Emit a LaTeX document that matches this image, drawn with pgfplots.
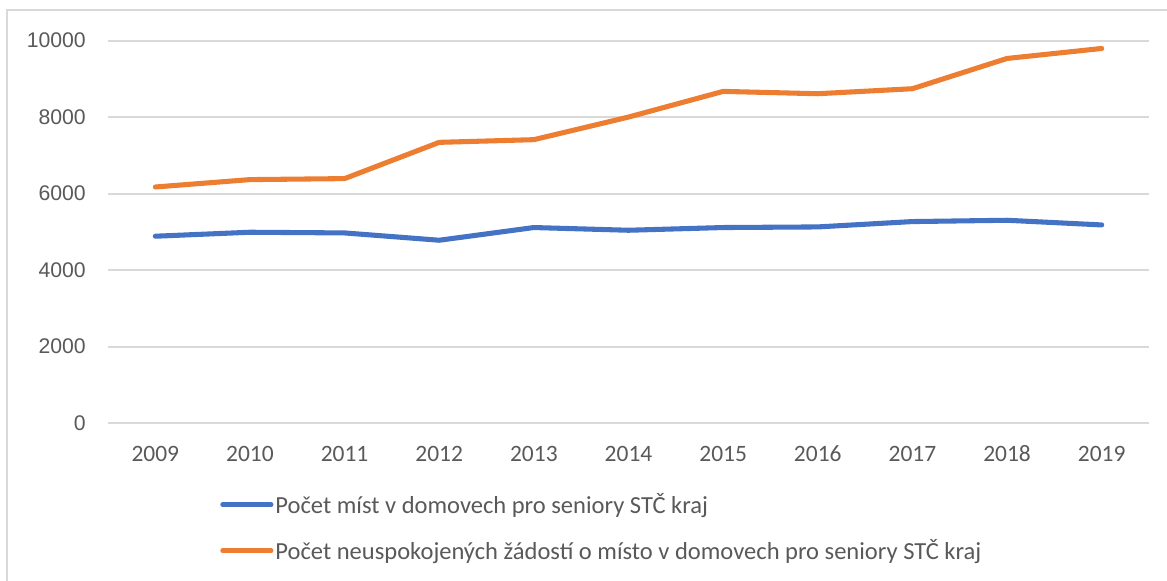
\documentclass[border=0pt]{standalone}
\usepackage{fontspec}
\setmainfont{Carlito}
\newfontfamily\yfont{Liberation Sans}
\usepackage{pgfplots}
\pgfplotsset{compat=1.18}
\definecolor{cblue}{HTML}{4472C4}
\definecolor{corange}{HTML}{ED7D31}
\definecolor{ctext}{HTML}{595959}
\definecolor{cgrid}{HTML}{D9D9D9}
\begin{document}
\begin{tikzpicture}
\path[use as bounding box] (0pt,0pt) rectangle (875.25pt,-435.75pt);
\draw[cgrid, line width=0.8pt] (5.25pt,-435.75pt) -- (5.25pt,-7.5pt) -- (875.25pt,-7.5pt);
\begin{axis}[
  at={(81pt,-317.4pt)}, anchor=south west,
  scale only axis, width=780.75pt, height=286.9pt,
  xmin=-0.5, xmax=10.5, ymin=0, ymax=10000,
  xtick={0,...,10},
  xticklabels={2009,2010,2011,2012,2013,2014,2015,2016,2017,2018,2019},
  ytick={0,2000,4000,6000,8000,10000},
  yticklabels={0,2000,4000,6000,8000,10000},
  scaled y ticks=false,
  axis line style={draw=none},
  major tick length=0pt,
  ymajorgrids, grid style={cgrid, line width=1.3pt},
  /pgf/number format/assume math mode=true,
  /pgf/number format/1000 sep={},
  yticklabel style={font=\yfont\fontsize{15.9pt}{17pt}\selectfont, text=ctext, anchor=east, inner sep=0pt, xshift=-16.5pt},
  xticklabel style={font=\fontsize{17.6pt}{19pt}\selectfont, text=ctext, anchor=base, inner sep=0pt, yshift=-29pt},
  legend style={at={(0.1076,-0.178)}, anchor=north west, draw=none, fill=none,
    font=\fontsize{18.4pt}{20pt}\selectfont, text=ctext,
    row sep=15pt, inner sep=0pt,
    nodes={inner sep=1.5pt, anchor=west}},
  legend cell align=left,
  legend image code/.code={\draw[#1, line width=3.6pt, line cap=round] (1.7pt,0pt) -- (38pt,0pt);},
  every axis plot/.append style={line width=3.8pt, line cap=round, line join=round},
]
\addplot[cblue] coordinates {(0,4888) (1,4992) (2,4974) (3,4783) (4,5115) (5,5044) (6,5115) (7,5131) (8,5271) (9,5305) (10,5183)};
\addlegendentry{Počet míst v domovech pro seniory STČ kraj}
\addplot[corange] coordinates {(0,6175) (1,6368) (2,6394) (3,7342) (4,7412) (5,8003) (6,8674) (7,8613) (8,8744) (9,9535) (10,9796)};
\addlegendentry{Počet neuspokojených žádostí o místo v domovech pro seniory STČ kraj}
\end{axis}
\end{tikzpicture}
\end{document}
